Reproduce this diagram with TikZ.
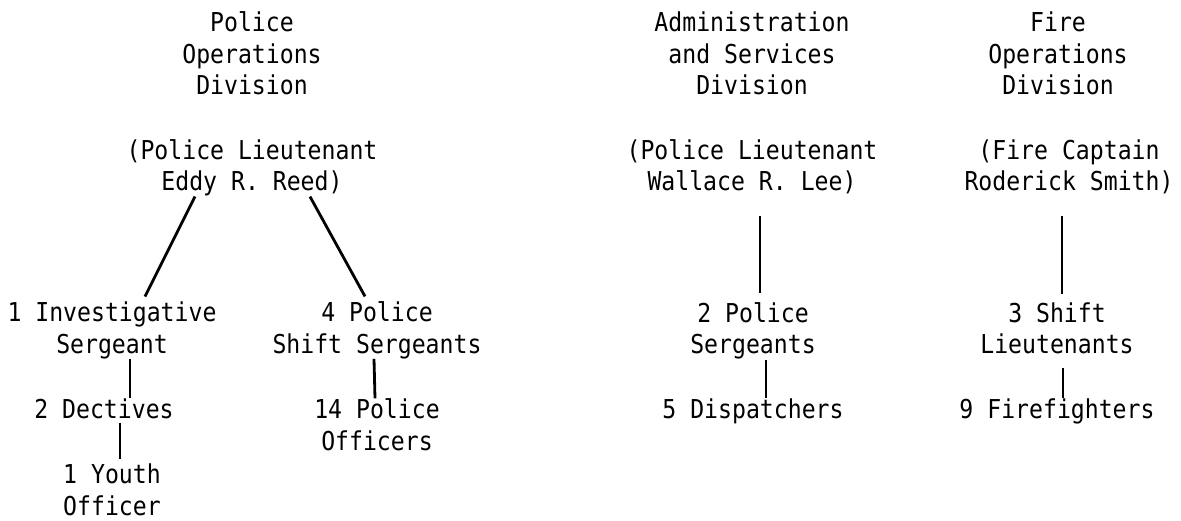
\documentclass[tikz,border=0pt]{standalone}
\usepackage{fontspec}
\newfontfamily\typew[FakeStretch=0.89]{DejaVu Sans Mono}
\begin{document}
\begin{tikzpicture}[x=1pt, y=-1pt,
  lbl/.style={inner sep=0pt, anchor=base, align=center,
    font=\typew\fontsize{26}{31.5}\selectfont},
  lnk/.style={line width=2.8pt}]
\useasboundingbox (0,0) rectangle (1181,521);
% division heads (placed at the baseline of the last line)
\node[lbl] (pod) at (252,95) {Police\\Operations\\Division};
\node[lbl] (asd) at (752,95) {Administration\\and Services\\Division};
\node[lbl] (fod) at (1058,95) {Fire\\Operations\\Division};
\node[lbl] (pl1) at (252,191) {(Police Lieutenant\\Eddy R. Reed)};
\node[lbl] (pl2) at (752,191) {(Police Lieutenant\\Wallace R. Lee)};
\node[lbl] (fc) at (1069,191) {(Fire Captain\\Roderick Smith)};
% staff
\node[lbl] (inv) at (112,353) {1 Investigative\\Sergeant};
\node[lbl] (shs) at (377,353) {4 Police\\Shift Sergeants};
\node[lbl] (ps2) at (753,354) {2 Police\\Sergeants};
\node[lbl] (sl3) at (1057,354) {3 Shift\\Lieutenants};
\node[lbl] (det) at (104,418) {2 Dectives};
\node[lbl] (ofc) at (377,450) {14 Police\\Officers};
\node[lbl] (dsp) at (753,418) {5 Dispatchers};
\node[lbl] (ff) at (1057,418) {9 Firefighters};
\node[lbl] (yth) at (112,515) {1 Youth\\Officer};
% links
\draw[lnk] ([xshift=-57pt]pl1.south) -- ([xshift=33pt,yshift=5pt]inv.north);
\draw[lnk] ([xshift=58pt]pl1.south) -- ([xshift=-12pt,yshift=5pt]shs.north);
\draw[lnk] ([xshift=18pt]inv.south) -- ([xshift=26pt]det.north);
\draw[lnk] ([xshift=16pt,yshift=-4pt]det.south) -- ([xshift=8pt,yshift=5pt]yth.north);
\draw[lnk] ([xshift=-3pt]shs.south) -- ([xshift=-2pt]ofc.north);
\draw[lnk] ([xshift=8pt,yshift=-21pt]pl2.south) -- ([xshift=7pt,yshift=9pt]ps2.north);
\draw[lnk] ([xshift=13pt]ps2.south) -- ([xshift=13pt]dsp.north);
\draw[lnk] ([xshift=-7pt,yshift=-21pt]fc.south) -- ([xshift=5pt,yshift=9pt]sl3.north);
\draw[lnk] ([xshift=6pt,yshift=-13pt]sl3.south) -- ([xshift=6pt]ff.north);
\end{tikzpicture}
\end{document}
